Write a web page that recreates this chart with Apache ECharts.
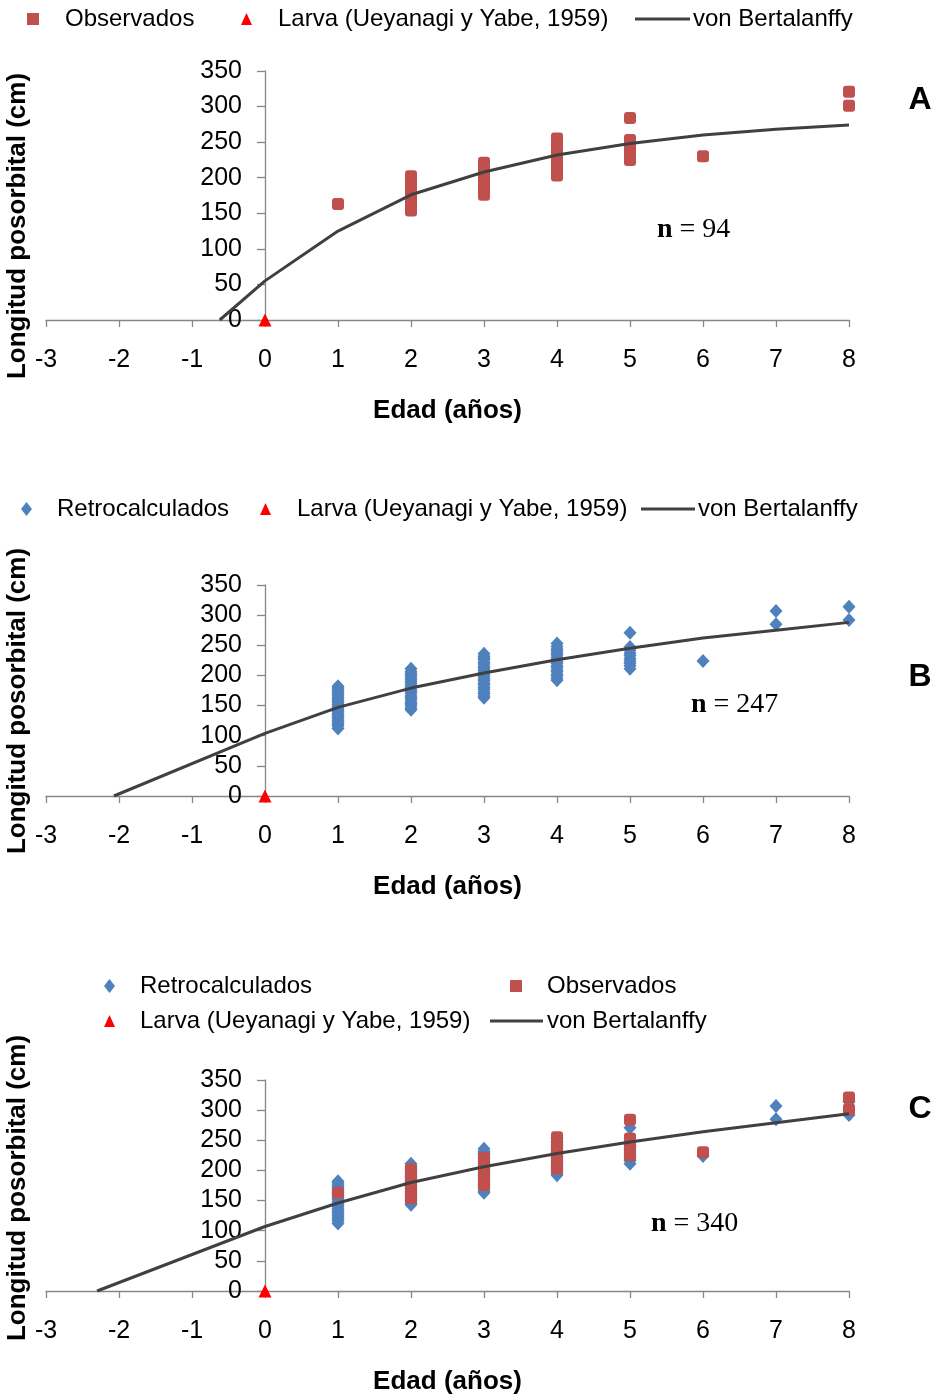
<!DOCTYPE html>
<html><head><meta charset="utf-8">
<script src="https://cdn.jsdelivr.net/npm/echarts@6/dist/echarts.min.js"></script>
<style>html,body{margin:0;padding:0;background:#fff}#c{width:937px;height:1400px}</style>
</head><body><div id="c"></div>
<script>
// ---------- data ----------
const xTickValues = [-3, -2, -1, 0, 1, 2, 3, 4, 5, 6, 7, 8];
const yTickValues = [0, 50, 100, 150, 200, 250, 300, 350];

const observedAges = [1, 2, 3, 4, 5, 6, 8];
const observedLengths = [
  [163],
  [154, 158, 161, 165, 168, 171, 175, 178, 181, 185, 188, 192, 195, 198, 202],
  [176, 180, 183, 187, 190, 194, 197, 200, 204, 207, 211, 214, 218, 221],
  [203, 206, 210, 213, 217, 220, 224, 227, 231, 234, 238, 241, 245, 248, 252, 255],
  [225, 229, 233, 237, 241, 245, 249, 253, 284],
  [230],
  [301, 321]
];

const retroAges = [1, 2, 3, 4, 5, 6, 7, 8];
const retroLengths = [
  [112, 116, 119, 122, 125, 128, 131, 134, 137, 140, 143, 146, 149, 152, 155, 158, 161, 164, 167, 170, 173, 176, 179, 182],
  [143, 146, 150, 153, 156, 160, 163, 166, 170, 173, 176, 180, 183, 186, 190, 193, 196, 200, 203, 206, 211],
  [163, 166, 170, 173, 177, 180, 184, 187, 191, 194, 198, 201, 205, 208, 212, 215, 219, 222, 226, 229, 232, 236],
  [192, 195, 199, 202, 206, 209, 213, 216, 220, 223, 227, 230, 234, 237, 241, 244, 248, 253],
  [211, 216, 220, 224, 228, 233, 237, 242, 247, 271],
  [224],
  [285, 307],
  [292, 314]
];

const larvaAge = [0];
const larvaLength = [0];

const vbAgesA = [-0.62, 0, 1, 2, 3, 4, 5, 6, 7, 8];
const vbLengthsA = [0, 55, 125, 176, 208, 232, 248, 260, 268, 274];
const vbAgesB = [-2.07, 0, 1, 2, 3, 4, 5, 6, 7, 8];
const vbLengthsB = [0, 104, 147, 179, 204, 226, 245, 262, 275, 288];
const vbAgesC = [-2.30, 0, 1, 2, 3, 4, 5, 6, 7, 8];
const vbLengthsC = [0, 107, 146, 180, 206, 228, 247, 264, 279, 294];

const sampleSizes = ['94', '247', '340'];
const panelLetters = ['A', 'B', 'C'];

// ---------- helpers ----------
const pairsFromGroups = (ages, groups) => ages.flatMap((a, i) => groups[i].map(v => [a, v]));
const pairs = (xs, ys) => xs.map((x, i) => [x, ys[i]]);
const observedData = pairsFromGroups(observedAges, observedLengths);
const retroData = pairsFromGroups(retroAges, retroLengths);
const larvaData = pairs(larvaAge, larvaLength);

const SANS = '"Liberation Sans", Arial, sans-serif';
const SERIF = '"Liberation Serif", "Times New Roman", serif';
const AXIS_GRAY = '#868686';
const RED = '#C0504D', BLUE = '#4F81BD', LINE = '#404040';

const GRID_LEFT = 46, GRID_RIGHT = 88;
const grids = [
  { left: GRID_LEFT, right: GRID_RIGHT, top: 71, height: 249, outerBoundsMode: 'none', containLabel: false },
  { left: GRID_LEFT, right: GRID_RIGHT, top: 585, height: 211, outerBoundsMode: 'none', containLabel: false },
  { left: GRID_LEFT, right: GRID_RIGHT, top: 1080, height: 211, outerBoundsMode: 'none', containLabel: false }
];
// y axis sits at age 0: shift it right from the grid's left edge by that fraction of the width
const xMin = xTickValues[0], xMax = xTickValues[xTickValues.length - 1];
const plotWidth = 937 - GRID_LEFT - GRID_RIGHT;
const yAxisShift = plotWidth * (0 - xMin) / (xMax - xMin);

const xAxes = grids.map((g, i) => ({
  type: 'value', gridIndex: i, min: xMin, max: xMax, interval: 1,
  name: 'Edad (años)', nameLocation: 'middle', nameGap: 78,
  nameTextStyle: { fontFamily: SANS, fontWeight: 'bold', fontSize: 26, color: '#000' },
  axisLine: { onZero: false, lineStyle: { color: AXIS_GRAY, width: 1.3 } },
  axisTick: { length: 7, lineStyle: { color: AXIS_GRAY, width: 1.3 } },
  axisLabel: { fontFamily: SANS, fontSize: 25, color: '#000', margin: 28, showMinLabel: true, showMaxLabel: true, hideOverlap: false },
  splitLine: { show: false }
}));

const yAxes = grids.map((g, i) => ({
  type: 'value', gridIndex: i, position: 'left', offset: -yAxisShift,
  min: yTickValues[0], max: yTickValues[yTickValues.length - 1], interval: 50,
  axisLine: { show: true, onZero: false, lineStyle: { color: AXIS_GRAY, width: 1.3 } },
  axisTick: { show: true, length: 8, lineStyle: { color: AXIS_GRAY, width: 1.3 } },
  axisLabel: { fontFamily: SANS, fontSize: 25, color: '#000', margin: 23, showMinLabel: true, showMaxLabel: true, hideOverlap: false },
  splitLine: { show: false }
}));

const retroSeries = (i) => ({
  name: 'Retrocalculados', type: 'scatter', xAxisIndex: i, yAxisIndex: i, data: retroData,
  symbol: 'diamond', symbolSize: [13, 14], itemStyle: { color: BLUE, opacity: 1 }
});
const obsSeries = (i) => ({
  name: 'Observados', type: 'scatter', xAxisIndex: i, yAxisIndex: i, data: observedData,
  symbol: 'roundRect', symbolSize: 12, itemStyle: { color: RED, opacity: 1 }
});
const larvaSeries = (i) => ({
  name: 'Larva (Ueyanagi y Yabe, 1959)', type: 'scatter', xAxisIndex: i, yAxisIndex: i, data: larvaData,
  symbol: 'triangle', symbolSize: [13, 13], itemStyle: { color: '#FF0000', opacity: 1 }, z: 5
});
const vbSeries = (i, xs, ys) => ({
  name: 'von Bertalanffy', type: 'line', xAxisIndex: i, yAxisIndex: i, data: pairs(xs, ys),
  symbol: 'none', smooth: false, lineStyle: { color: LINE, width: 3 }, itemStyle: { color: LINE }, z: 4
});

const series = [
  obsSeries(0), larvaSeries(0), vbSeries(0, vbAgesA, vbLengthsA),
  retroSeries(1), larvaSeries(1), vbSeries(1, vbAgesB, vbLengthsB),
  retroSeries(2), obsSeries(2), larvaSeries(2), vbSeries(2, vbAgesC, vbLengthsC)
];

function legendItem(name, icon, w, h, left, top, gap) {
  return {
    data: [{ name: name, icon: icon }], left: left, top: top, padding: 0,
    itemWidth: w, itemHeight: h, selectedMode: false, orient: 'horizontal',
    textStyle: { fontFamily: SANS, fontSize: 24, color: '#000', padding: [0, 0, 0, gap] }
  };
}
const legends = [
  legendItem('Observados', 'rect', 12, 12, 27, 7, 21),
  legendItem('Larva (Ueyanagi y Yabe, 1959)', 'triangle', 11, 12, 241, 7, 21),
  legendItem('von Bertalanffy', 'rect', 55, 3, 635, 7, -2),

  legendItem('Retrocalculados', 'diamond', 11, 14, 21, 497, 20),
  legendItem('Larva (Ueyanagi y Yabe, 1959)', 'triangle', 11, 12, 260, 497, 21),
  legendItem('von Bertalanffy', 'rect', 54, 3, 641, 497, -2),

  legendItem('Retrocalculados', 'diamond', 11, 14, 104, 974, 20),
  legendItem('Observados', 'rect', 12, 12, 510, 974, 20),
  legendItem('Larva (Ueyanagi y Yabe, 1959)', 'triangle', 11, 12, 104, 1009, 20),
  legendItem('von Bertalanffy', 'rect', 53, 3, 490, 1009, -1)
];

const yTitleCenters = [226, 701, 1188];
const nPos = [[657, 230], [691, 705], [651, 1224]];
const letterPos = [100, 677, 1109];

const graphics = [];
for (let i = 0; i < 3; i++) {
  graphics.push({
    type: 'text', x: 18, y: yTitleCenters[i], rotation: Math.PI / 2,
    style: { text: 'Longitud posorbital (cm)', font: 'bold 26px ' + SANS, fill: '#000',
      textAlign: 'center', textVerticalAlign: 'middle', align: 'center', verticalAlign: 'middle' }
  });
  graphics.push({
    type: 'text', x: nPos[i][0], y: nPos[i][1],
    style: { text: '{b|n} = ' + sampleSizes[i], font: '28px ' + SERIF, fill: '#000',
      textAlign: 'left', textVerticalAlign: 'middle', align: 'left', verticalAlign: 'middle',
      rich: { b: { fontFamily: SERIF, fontSize: 28, fontWeight: 'bold', fill: '#000', color: '#000' } } }
  });
  graphics.push({
    type: 'text', x: 920, y: letterPos[i],
    style: { text: panelLetters[i], font: 'bold 32px ' + SANS, fill: '#000',
      textAlign: 'center', textVerticalAlign: 'middle', align: 'center', verticalAlign: 'middle' }
  });
}

const chart = echarts.init(document.getElementById('c'), null, { renderer: 'canvas' });
chart.setOption({
  animation: false,
  backgroundColor: '#fff',
  grid: grids,
  xAxis: xAxes,
  yAxis: yAxes,
  legend: legends,
  series: series,
  graphic: graphics
});
</script>
</body></html>
